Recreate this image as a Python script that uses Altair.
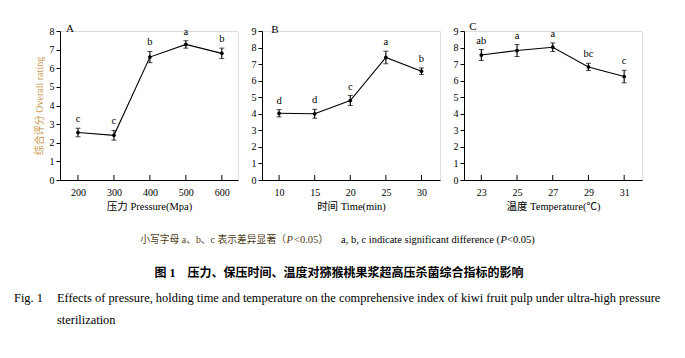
import altair as alt
import pandas as pd

FONT = "Liberation Serif, Noto Sans CJK SC"

# Panel A: pressure
a_x = [200, 300, 400, 500, 600]
a_v = [2.55, 2.4, 6.6, 7.28, 6.8]
a_e = [0.23, 0.26, 0.3, 0.2, 0.28]
a_l = ["c", "c", "b", "a", "b"]

# Panel B: holding time
b_x = [10, 15, 20, 25, 30]
b_v = [4.03, 4.0, 4.8, 7.4, 6.57]
b_e = [0.22, 0.27, 0.3, 0.38, 0.2]
b_l = ["d", "d", "c", "a", "b"]

# Panel C: temperature
c_x = [23, 25, 27, 29, 31]
c_v = [7.55, 7.82, 8.02, 6.83, 6.25]
c_e = [0.33, 0.36, 0.26, 0.22, 0.38]
c_l = ["ab", "a", "a", "bc", "c"]

panel_labels = ["A", "B", "C"]
x_titles = ["压力 Pressure(Mpa)", "时间 Time(min)", "温度 Temperature(℃)"]
y_title = "综合评分 Overall rating"

foot_cn = "小写字母 a、b、c 表示差异显著（"
foot_p = "P"
foot_cn_end = "<0.05）"
foot_en = "a, b, c indicate significant difference ("
foot_en_end = "<0.05)"
title_cn = "图 1\u3000压力、保压时间、温度对猕猴桃果浆超高压杀菌综合指标的影响"
fig_no = "Fig. 1"
title_en1 = "Effects of pressure, holding time and temperature on the comprehensive index of kiwi fruit pulp under ultra-high pressure"
title_en2 = "sterilization"

W, H = 178, 149


def cap(text, x, y, size, align="left", weight="normal", style="normal", color="black"):
    return alt.Chart(pd.DataFrame({"t": [text]})).mark_text(
        font=FONT, fontSize=size, align=align, baseline="middle",
        fontWeight=weight, fontStyle=style, color=color
    ).encode(text="t:N", x=alt.value(x), y=alt.value(y))


# captions are positioned relative to the first panel's plot origin
OX, OY = 59, 31
captions = [
    cap(foot_cn, 285 - OX, 240 - OY, 9.8, align="right", color="#4a3b14"),
    cap(foot_p, 285.5 - OX, 240 - OY, 10.5, style="italic", color="#4a3b14"),
    cap(foot_cn_end, 293 - OX, 240 - OY, 10.5, color="#4a3b14"),
    cap(foot_en, 499 - OX, 240 - OY, 10.5, align="right"),
    cap(foot_p, 499.5 - OX, 240 - OY, 10.5, style="italic"),
    cap(foot_en_end, 506 - OX, 240 - OY, 10.5),
    cap(title_cn, 338 - OX, 273 - OY, 12, align="center", weight="bold"),
    cap(fig_no, 13 - OX, 298 - OY, 12.4),
    cap(title_en1, 56 - OX, 298 - OY, 12.4),
    cap(title_en2, 56 - OX, 320 - OY, 12.4),
]


def panel(xs, vs, es, ls, xdom, ymax, label, xtitle, show_ytitle, lab_x, lab_y, extra=()):
    df = pd.DataFrame({"x": xs, "v": vs, "e": es, "l": ls})
    base = alt.Chart(df).transform_calculate(
        lo="datum.v - datum.e", hi="datum.v + datum.e"
    )
    xsc = alt.Scale(domain=xdom, nice=False, zero=False)
    ysc = alt.Scale(domain=[0, ymax], nice=False)
    xax = alt.Axis(values=xs, tickSize=0, labelPadding=7, title=xtitle,
                   titlePadding=4, grid=False, domainColor="black",
                   labelColor="black", titleColor="black", labelFontSize=10,
                   titleFontSize=10.5, titleFontWeight="normal", labelFont=FONT,
                   titleFont=FONT, domainWidth=1)
    yax = alt.Axis(values=list(range(0, ymax + 1)), tickSize=4, tickColor="black",
                   labelPadding=2, grid=False, domainColor="black",
                   labelColor="black", labelFontSize=10, labelFont=FONT,
                   title=y_title if show_ytitle else None,
                   titleColor="#c9964a", titleFont=FONT, titleFontSize=10,
                   titleFontWeight="normal", titlePadding=5, domainWidth=1)
    yt = y_title if show_ytitle else ""

    def X(f):
        return alt.X(f, scale=xsc, axis=xax, title=xtitle)

    def Y(f):
        return alt.Y(f, scale=ysc, axis=yax, title=yt if yt else None)

    line = base.mark_line(color="black", strokeWidth=1.1).encode(x=X("x:Q"), y=Y("v:Q"))
    err = base.mark_errorbar(ticks={"size": 5, "color": "black"},
                             rule={"strokeWidth": 1.1, "color": "black"}).encode(
        x=X("x:Q"), y=Y("lo:Q"), y2="hi:Q")
    pts = base.mark_point(filled=True, size=14, color="black", opacity=1).encode(
        x=X("x:Q"), y=Y("v:Q"))
    txt = base.mark_text(font=FONT, fontSize=10.5, dy=-9, color="black").encode(
        x=X("x:Q"), y=Y("hi:Q"), text="l:N")
    ticks = base.mark_rule(color="black", strokeWidth=1).encode(
        x=X("x:Q"), y=alt.value(H), y2=alt.value(H - 5))
    lab = alt.Chart(pd.DataFrame({"t": [label]})).mark_text(
        font=FONT, fontSize=11, align="center", baseline="middle", color="black"
    ).encode(text="t:N", x=alt.value(lab_x), y=alt.value(lab_y))
    return alt.layer(line, err, pts, txt, ticks, lab, *extra).properties(width=W, height=H)


pa = panel(a_x, a_v, a_e, a_l, [150, 645], 8, panel_labels[0], x_titles[0], True, 10, -2,
           extra=captions)
pb = panel(b_x, b_v, b_e, b_l, [7.6, 32.6], 9, panel_labels[1], x_titles[1], False, 13, -1)
pc = panel(c_x, c_v, c_e, c_l, [22.03, 32.0], 9, panel_labels[2], x_titles[2], False, 9, -4)

chart = alt.hconcat(pa, pb, pc, spacing=24, bounds="flush").properties(
    padding={"left": 5, "top": 12, "right": 5, "bottom": 5}
).configure_view(stroke=None).configure(font=FONT)

chart.save("out.html", embed_options={"renderer": "svg", "actions": False})
